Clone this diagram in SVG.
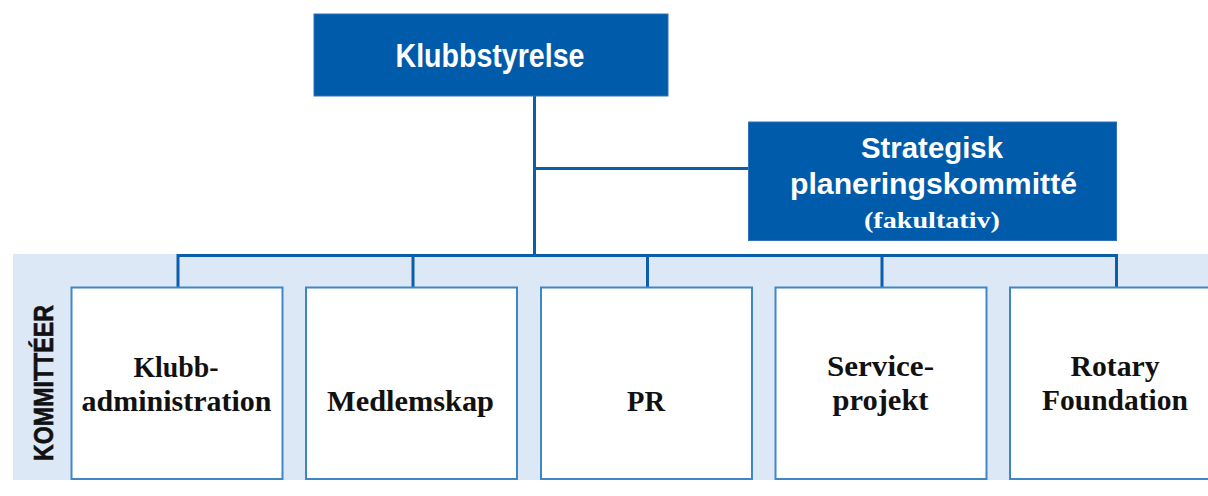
<svg xmlns="http://www.w3.org/2000/svg" width="1208" height="496" viewBox="0 0 1208 496">
<style>
.dark{fill:#005BAA;stroke:#2f72b8;stroke-width:1}
.comm{fill:#ffffff;stroke:#3f86c6;stroke-width:2}
.conn{fill:none;stroke:#0a5eac;stroke-width:3}
.wt{font-family:"Liberation Sans",Arial,sans-serif;font-weight:bold;fill:#ffffff;text-anchor:middle}
.st{font-family:"Liberation Serif","Times New Roman",serif;font-weight:bold;fill:#111111;text-anchor:middle;font-size:29px}
</style>
<rect x="0" y="0" width="1208" height="496" fill="#ffffff"/>
<rect id="band" x="13" y="254" width="1195" height="226" fill="#dde8f6"/>
<g id="connectors">
<path class="conn" d="M534.5 96 V255.5"/>
<path class="conn" d="M534.5 168.5 H749"/>
<path class="conn" d="M178 287 V255.5 H1116.5 V287"/>
<path class="conn" d="M413 255.5 V287"/>
<path class="conn" d="M647.5 255.5 V287"/>
<path class="conn" d="M882 255.5 V287"/>
</g>
<g id="klubbstyrelse">
<rect class="dark" x="314" y="14" width="354" height="82"/>
<text class="wt" x="490" y="67" font-size="33" textLength="189" lengthAdjust="spacingAndGlyphs">Klubbstyrelse</text>
</g>
<g id="strategisk">
<rect class="dark" x="748.5" y="122" width="368" height="118.5"/>
<text class="wt" x="932" y="158" font-size="30" textLength="142" lengthAdjust="spacingAndGlyphs">Strategisk</text>
<text class="wt" x="933.5" y="194" font-size="30" textLength="287" lengthAdjust="spacingAndGlyphs">planeringskommitté</text>
<text x="932" y="228" font-family="'Liberation Serif','Times New Roman',serif" font-weight="bold" font-size="24" fill="#ffffff" text-anchor="middle" textLength="136" lengthAdjust="spacingAndGlyphs">(fakultativ)</text>
</g>
<g id="kommitteer-label">
<text transform="translate(53,383) rotate(-90)" x="0" y="0" font-family="'Liberation Sans',Arial,sans-serif" font-weight="bold" font-size="27" fill="#111111" stroke="#111111" stroke-width="0.6" text-anchor="middle" textLength="156" lengthAdjust="spacingAndGlyphs">KOMMITTÉER</text>
</g>
<g id="klubbadministration">
<rect class="comm" x="71.5" y="287.5" width="211" height="191.5"/>
<text class="st" x="176" y="377" textLength="85" lengthAdjust="spacingAndGlyphs">Klubb-</text>
<text class="st" x="176.5" y="411" textLength="190" lengthAdjust="spacingAndGlyphs">administration</text>
</g>
<g id="medlemskap">
<rect class="comm" x="306" y="287.5" width="211" height="191.5"/>
<text class="st" x="410.5" y="411" textLength="167" lengthAdjust="spacingAndGlyphs">Medlemskap</text>
</g>
<g id="pr">
<rect class="comm" x="541" y="287.5" width="211" height="191.5"/>
<text class="st" x="646" y="411" textLength="38" lengthAdjust="spacingAndGlyphs">PR</text>
</g>
<g id="serviceprojekt">
<rect class="comm" x="775.5" y="287.5" width="211" height="191.5"/>
<text class="st" x="880.5" y="376" textLength="107" lengthAdjust="spacingAndGlyphs">Service-</text>
<text class="st" x="880.5" y="410" textLength="96" lengthAdjust="spacingAndGlyphs">projekt</text>
</g>
<g id="rotaryfoundation">
<rect class="comm" x="1010" y="287.5" width="211" height="191.5"/>
<text class="st" x="1115" y="376" textLength="89" lengthAdjust="spacingAndGlyphs">Rotary</text>
<text class="st" x="1115" y="410" textLength="146" lengthAdjust="spacingAndGlyphs">Foundation</text>
</g>
</svg>
